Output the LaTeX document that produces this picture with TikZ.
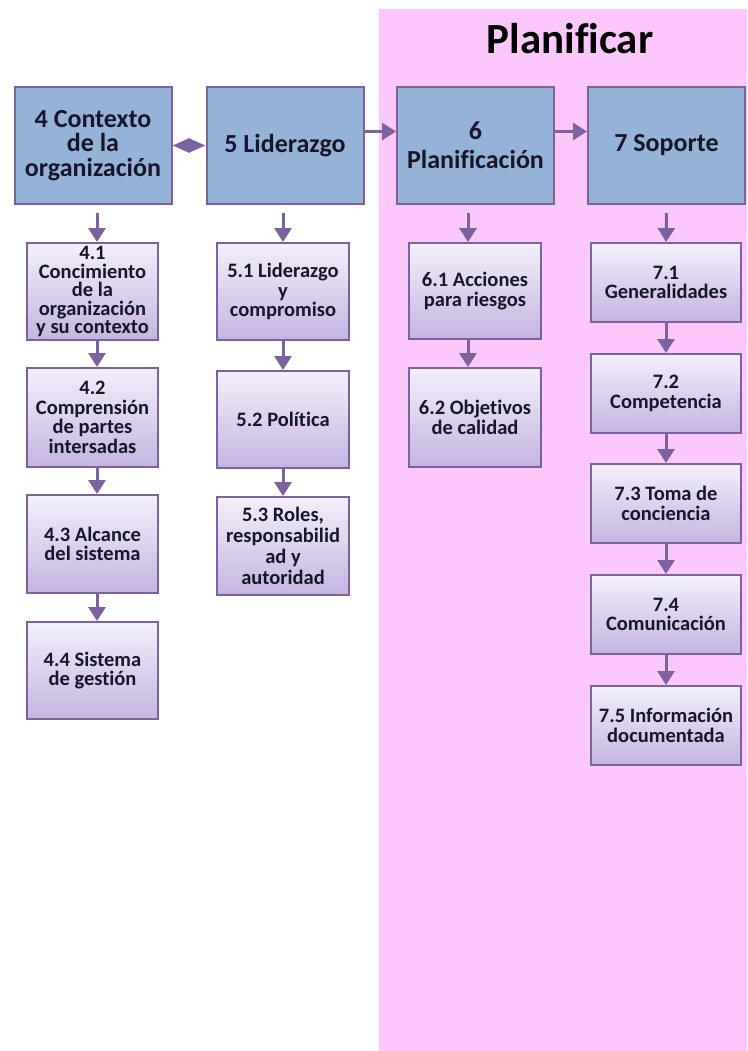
\documentclass[tikz,border=0pt]{standalone}
\usepackage{fontspec}
\setmainfont{Carlito}[Ligatures=NoCommon]
\usetikzlibrary{arrows.meta}

\definecolor{planpink}{RGB}{252,200,252}
\definecolor{headblue}{RGB}{149,179,215}
\definecolor{edgepurple}{RGB}{125,98,160}
\definecolor{subtop}{RGB}{243,239,251}
\definecolor{subbot}{RGB}{196,181,224}
\definecolor{inkdark}{RGB}{22,22,44}

\begin{document}
\begin{tikzpicture}[x=1pt,y=-1pt,
  head/.style={draw=edgepurple, line width=2pt, fill=headblue,
    minimum width=157pt, minimum height=117pt, inner sep=0pt,
    align=center, text=inkdark, font=\bfseries\fontsize{26}{24.5}\selectfont},
  sub/.style={draw=edgepurple, line width=2pt, top color=subtop, bottom color=subbot,
    inner sep=0pt, align=center, text=inkdark,
    font=\bfseries\fontsize{20.5}{19.5}\selectfont},
  flow/.style={draw=edgepurple, line width=3pt, -{Triangle[length=14pt,width=17pt]}},
  link/.style={draw=edgepurple, line width=3pt,
    {Triangle[length=17pt,width=14pt]}-{Triangle[length=17pt,width=14pt]}},
]
\useasboundingbox (0,0) rectangle (747,1051);
\fill[white] (0,0) rectangle (747,1051);

% planning area
\fill[planpink] (379,9) rectangle (747,1051);
\node[anchor=base, inner sep=0pt, text=black,
  font=\bfseries\fontsize{43}{43}\selectfont] (title) at (570,54) {Planificar};

% main clauses
\node[head] (c4) at (93,145.5) {4 Contexto\\de la\\organización};
\node[head] (c5) at (285,145.5) {5 Liderazgo};
\node[head, font=\bfseries\fontsize{26}{29}\selectfont] (c6) at (475.5,145.5) {6\\Planificación};
\node[head] (c7) at (666.5,145.5) {7 Soporte};

% clause 4
\node[sub, minimum width=131pt, minimum height=97pt,
  font=\bfseries\fontsize{20.5}{18.5}\selectfont] (s41) at (92.5,291.5)
  {4.1\\Concimiento\\de la\\organización\\y su contexto};
\node[sub, minimum width=131pt, minimum height=99pt] (s42) at (92.5,417.5)
  {4.2\\Comprensión\\de partes\\intersadas};
\node[sub, minimum width=131pt, minimum height=98pt] (s43) at (92.5,544)
  {4.3 Alcance\\del sistema};
\node[sub, minimum width=131pt, minimum height=97pt] (s44) at (92.5,670.5)
  {4.4 Sistema\\de gestión};

% clause 5
\node[sub, minimum width=132pt, minimum height=97pt] (s51) at (283,291.5)
  {5.1 Liderazgo\\y\\compromiso};
\node[sub, minimum width=132pt, minimum height=97pt] (s52) at (283,419.5)
  {5.2 Política};
\node[sub, minimum width=132pt, minimum height=98pt,
  font=\bfseries\fontsize{20.5}{21}\selectfont] (s53) at (283,546)
  {5.3 Roles,\\responsabilid\\ad y\\autoridad};

% clause 6
\node[sub, minimum width=132pt, minimum height=96pt] (s61) at (475,291)
  {6.1 Acciones\\para riesgos};
\node[sub, minimum width=132pt, minimum height=99pt] (s62) at (475,417.5)
  {6.2 Objetivos\\de calidad};

% clause 7
\node[sub, minimum width=150pt, minimum height=79pt] (s71) at (666,282.5)
  {7.1\\Generalidades};
\node[sub, minimum width=150pt, minimum height=79pt] (s72) at (666,393.5)
  {7.2\\Competencia};
\node[sub, minimum width=150pt, minimum height=79pt] (s73) at (666,503.5)
  {7.3 Toma de\\conciencia};
\node[sub, minimum width=150pt, minimum height=79pt] (s74) at (666,614.5)
  {7.4\\Comunicación};
\node[sub, minimum width=150pt, minimum height=79pt] (s75) at (666,725.5)
  {7.5 Información\\documentada};

% links between main clauses
\draw[link] (c4) -- (c5);
\draw[flow] ([yshift=14pt]c5.east) -- ([yshift=14pt]c6.west);
\draw[flow] ([yshift=14pt]c6.east) -- ([yshift=14pt]c7.west);

% clause 4 chain
\draw[flow] ([xshift=4pt,yshift=-8pt]c4.south) -- ([xshift=4.5pt]s41.north);
\draw[flow] ([xshift=4.5pt]s41.south) -- ([xshift=4.5pt]s42.north);
\draw[flow] ([xshift=4.5pt]s42.south) -- ([xshift=4.5pt]s43.north);
\draw[flow] ([xshift=4.5pt]s43.south) -- ([xshift=4.5pt]s44.north);

% clause 5 chain
\draw[flow] ([xshift=-2pt,yshift=-8pt]c5.south) -- (s51.north);
\draw[flow] (s51) -- (s52);
\draw[flow] (s52) -- (s53);

% clause 6 chain
\draw[flow] ([xshift=-7.5pt,yshift=-8pt]c6.south) -- ([xshift=-7pt]s61.north);
\draw[flow] ([xshift=-7pt]s61.south) -- ([xshift=-7pt]s62.north);

% clause 7 chain
\draw[flow] ([yshift=-8pt]c7.south) -- (s71.north);
\draw[flow] (s71) -- (s72);
\draw[flow] (s72) -- (s73);
\draw[flow] (s73) -- (s74);
\draw[flow] (s74) -- (s75);
\end{tikzpicture}
\end{document}
